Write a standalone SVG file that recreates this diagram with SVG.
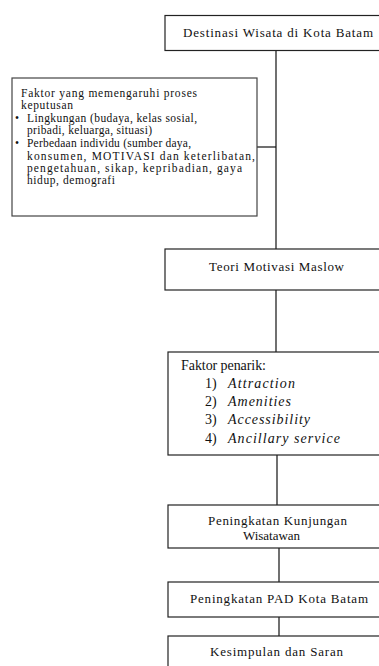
<svg xmlns="http://www.w3.org/2000/svg" width="379" height="666" viewBox="0 0 379 666">
<style>
.box{fill:#fff;stroke:#222;stroke-width:1.2}
.t{font-family:"Liberation Serif","Times New Roman",serif;font-size:13px;fill:#111}
.s{font-size:11.5px}
.c{text-anchor:middle}
.i{font-style:italic;font-size:14px}
.n{font-size:14px}
.ln{stroke:#111;stroke-width:1.2;fill:none}
</style>
<rect width="379" height="666" fill="#fff"/>
<g id="connectors">
<line class="ln" x1="276" y1="50.5" x2="276" y2="249"/>
<line class="ln" x1="257" y1="147" x2="276" y2="147"/>
<line class="ln" x1="276" y1="290" x2="276" y2="352"/>
<line class="ln" x1="277" y1="455" x2="277" y2="505"/>
<line class="ln" x1="279" y1="548" x2="279" y2="582"/>
<line class="ln" x1="279" y1="617" x2="279" y2="636"/>
</g>
<g id="destinasi">
<rect class="box" x="165" y="15.5" width="222" height="35"/>
<text class="t c" x="278" y="37" textLength="190" lengthAdjust="spacing">Destinasi Wisata di Kota Batam</text>
</g>
<g id="faktor-proses">
<rect class="box" x="12" y="78" width="245" height="138" style="stroke:#444"/>
<text class="t s" x="21" y="97" textLength="176" lengthAdjust="spacing">Faktor yang memengaruhi proses</text>
<text class="t s" x="21" y="109" textLength="52" lengthAdjust="spacing">keputusan</text>
<text class="t s" x="15" y="122">•</text>
<text class="t s" x="27" y="122" textLength="170" lengthAdjust="spacing">Lingkungan (budaya, kelas sosial,</text>
<text class="t s" x="27" y="134" textLength="125" lengthAdjust="spacing">pribadi, keluarga, situasi)</text>
<text class="t s" x="15" y="147">•</text>
<text class="t s" x="27" y="147" textLength="164" lengthAdjust="spacing">Perbedaan individu (sumber daya,</text>
<text class="t s" x="27" y="160" textLength="228" lengthAdjust="spacing">konsumen, MOTIVASI dan keterlibatan,</text>
<text class="t s" x="27" y="172" textLength="215" lengthAdjust="spacing">pengetahuan,  sikap, kepribadian,  gaya</text>
<text class="t s" x="27" y="184" textLength="88" lengthAdjust="spacing">hidup, demografi</text>
</g>
<g id="maslow">
<rect class="box" x="165" y="249" width="222" height="41"/>
<text class="t c" x="276.5" y="271" textLength="135" lengthAdjust="spacing">Teori Motivasi Maslow</text>
</g>
<g id="faktor-penarik">
<rect class="box" x="168" y="352" width="222" height="103"/>
<text class="t n" x="181" y="370" textLength="85" lengthAdjust="spacing">Faktor penarik:</text>
<text class="t n" x="205" y="388">1)</text>
<text class="t i" x="228" y="388" textLength="67" lengthAdjust="spacing">Attraction</text>
<text class="t n" x="205" y="406">2)</text>
<text class="t i" x="228" y="406" textLength="63" lengthAdjust="spacing">Amenities</text>
<text class="t n" x="205" y="424">3)</text>
<text class="t i" x="228" y="424" textLength="82" lengthAdjust="spacing">Accessibility</text>
<text class="t n" x="205" y="443">4)</text>
<text class="t i" x="228" y="443" textLength="112" lengthAdjust="spacing">Ancillary service</text>
</g>
<g id="kunjungan">
<rect class="box" x="168" y="505" width="222" height="43"/>
<text class="t c" x="277.5" y="525" textLength="139" lengthAdjust="spacing">Peningkatan Kunjungan</text>
<text class="t c" x="271.5" y="540" textLength="57" lengthAdjust="spacing">Wisatawan</text>
</g>
<g id="pad">
<rect class="box" x="168" y="582" width="222" height="35"/>
<text class="t c" x="279" y="603" textLength="178" lengthAdjust="spacing">Peningkatan PAD Kota Batam</text>
</g>
<g id="kesimpulan">
<rect class="box" x="168" y="636" width="222" height="40"/>
<text class="t c" x="276.5" y="656" textLength="133" lengthAdjust="spacing">Kesimpulan dan Saran</text>
</g>
</svg>
